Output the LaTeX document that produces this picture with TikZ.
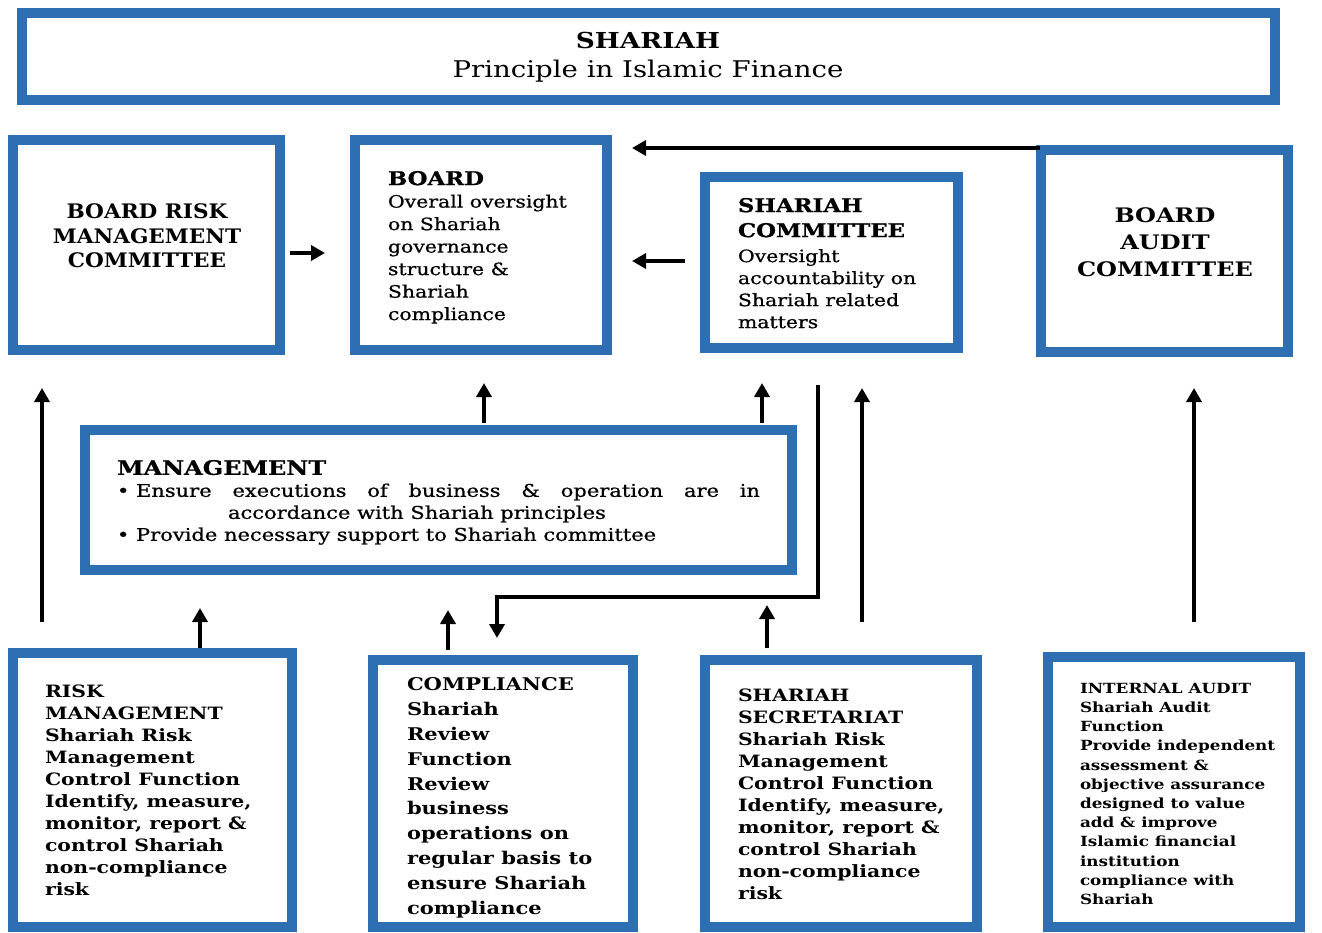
\documentclass[tikz,border=0pt]{standalone}
\usepackage{fontspec}
\setmainfont{DejaVu Serif}[FakeStretch=1.2]
\newfontfamily\narrowf{DejaVu Serif}[FakeStretch=1.08]
\newfontfamily\semibf{DejaVu Serif}[FakeStretch=1.2, FakeBold=0.8]
\usetikzlibrary{arrows.meta}
\definecolor{boxblue}{RGB}{46,110,178}
\begin{document}
\begin{tikzpicture}[x=1pt,y=-1pt,
  box/.style={draw=boxblue, line width=10pt, fill=white, inner sep=0pt, outer sep=5pt},
  txt/.style={inner sep=0pt, outer sep=0pt, text=black},
  arr/.style={line width=4pt, -{Triangle[length=14pt,width=15pt]}},
  elb/.style={line width=4pt, line join=miter, -{Triangle[length=14pt,width=15pt]}}]
\useasboundingbox[fill=white] (0,0) rectangle (1322,933);

% boxes (centre, size = outer - 10)
\node[box, minimum width=1253pt, minimum height=87pt] (top) at (648.5,56.5) {};
\node[box, minimum width=267pt, minimum height=210pt] (brmc) at (146.5,245) {};
\node[box, minimum width=252pt, minimum height=210pt] (board) at (481,245) {};
\node[box, minimum width=253pt, minimum height=171pt] (sc) at (831.5,262.5) {};
\node[box, minimum width=247pt, minimum height=202pt] (bac) at (1164.5,251) {};
\node[box, minimum width=707pt, minimum height=140pt] (mgmt) at (438.5,500) {};
\node[box, minimum width=279pt, minimum height=274pt] (rm) at (152.5,790) {};
\node[box, minimum width=260pt, minimum height=267pt] (comp) at (503,793.5) {};
\node[box, minimum width=272pt, minimum height=267pt] (ss) at (841,793.5) {};
\node[box, minimum width=252pt, minimum height=270pt] (ia) at (1174,792) {};

% texts
\node[txt, align=center, font=\fontsize{23}{29}\selectfont] (ttop) at (648,57)
  {\textbf{\fontsize{22}{29}\selectfont SHARIAH}\\ Principle in Islamic Finance};
\node[txt, align=center, font=\narrowf\bfseries\fontsize{20}{24.5}\selectfont] (tbrmc) at (147,236)
  {BOARD RISK\\MANAGEMENT\\COMMITTEE};
\node[txt, align=center, font=\bfseries\fontsize{20}{27}\selectfont] (tbac) at (1165,242)
  {BOARD\\AUDIT\\COMMITTEE};
\node[txt, anchor=north west, align=left, font=\semibf\fontsize{17}{22.5}\selectfont] (tboard) at (388,171)
  {\textbf{\fontsize{19}{22.5}\selectfont BOARD}\\Overall oversight\\on Shariah\\governance\\structure \&\\Shariah\\compliance};
\node[txt, anchor=north west, align=left, font=\semibf\fontsize{17}{22}\selectfont] (tsc) at (738,198)
  {\textbf{\fontsize{19}{22}\selectfont SHARIAH}\\[3pt]\textbf{\fontsize{19}{22}\selectfont COMMITTEE}\\[3pt]Oversight\\accountability on\\Shariah related\\matters};
\node[txt, anchor=north west, align=left, font=\semibf\fontsize{17.5}{22}\selectfont] (tmgmt) at (117,460)
  {\textbf{\fontsize{20}{22}\selectfont MANAGEMENT}\\
   \hbox to 643pt{•\ Ensure\hfill executions\hfill of\hfill business\hfill \&\hfill operation\hfill are\hfill in}\\
   \hbox to 643pt{\hspace*{111pt}accordance with Shariah principles\hfill}\\
   •\ Provide necessary support to Shariah committee};
\node[txt, anchor=north west, align=left, font=\bfseries\fontsize{17}{22}\selectfont] (trm) at (45,685)
  {RISK\\MANAGEMENT\\Shariah Risk\\Management\\Control Function\\Identify, measure,\\monitor, report \&\\control Shariah\\non-compliance\\risk};
\node[txt, anchor=north west, align=left, font=\bfseries\fontsize{17.5}{24.8}\selectfont] (tcomp) at (407,678)
  {COMPLIANCE\\Shariah\\Review\\Function\\Review\\business\\operations on\\regular basis to\\ensure Shariah\\compliance};
\node[txt, anchor=north west, align=left, font=\bfseries\fontsize{17}{22}\selectfont] (tss) at (738,689)
  {SHARIAH\\SECRETARIAT\\Shariah Risk\\Management\\Control Function\\Identify, measure,\\monitor, report \&\\control Shariah\\non-compliance\\risk};
\node[txt, anchor=north west, align=left, font=\bfseries\fontsize{14}{19.2}\selectfont] (tia) at (1080,683)
  {INTERNAL AUDIT\\Shariah Audit\\Function\\Provide independent\\assessment \&\\objective assurance\\designed to value\\add \& improve\\Islamic financial\\institution\\compliance with\\Shariah};

% connectors, top row
\draw[arr] ([shift={(5,8)}]brmc.east) -- ([shift={(-25,8)}]board.west);
\draw[arr] ([shift={(-15,-1.5)}]sc.west) -- ([shift={(20,16)}]board.east);
\draw[arr] ([shift={(4,3)}]bac.north west) -- ([shift={(20,13)}]board.north east);

% connectors, middle
\draw[arr] ([shift={(34,-26)}]rm.north west) -- ([shift={(34,33)}]brmc.south west);
\draw[arr] ([shift={(45.5,-2)}]mgmt.north) -- ([shift={(3,28)}]board.south);
\draw[arr] ([shift={(323.5,-2)}]mgmt.north) -- ([shift={(-69.5,30)}]sc.south);
\draw[elb] ([shift={(-13.5,32)}]sc.south) -- ++(0,212) -| ([shift={(-6,-17)}]comp.north);
\draw[arr] ([shift={(21,-33)}]ss.north) -- ([shift={(30.5,35)}]sc.south);
\draw[arr] ([shift={(20,-30)}]ia.north) -- ([shift={(29.5,31)}]bac.south);

% connectors, bottom row to management
\draw[arr] ([shift={(47.5,0)}]rm.north) -- ([shift={(-238.5,33)}]mgmt.south);
\draw[arr] ([shift={(-55,-5)}]comp.north) -- ([shift={(9.5,35)}]mgmt.south);
\draw[arr] ([shift={(-74,-7)}]ss.north) -- ([shift={(328.5,30)}]mgmt.south);
\end{tikzpicture}
\end{document}
